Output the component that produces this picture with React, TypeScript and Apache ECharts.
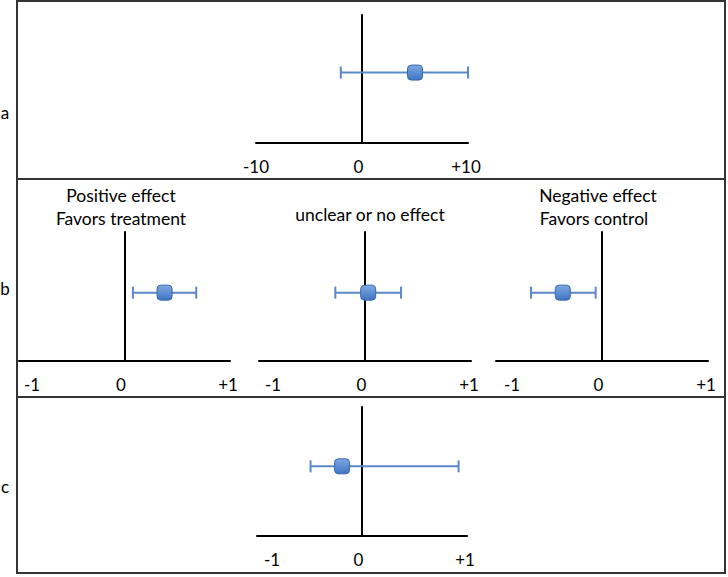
import React, { useEffect, useRef } from "react";
import * as echarts from "echarts";

// ---- data ----
const panelIds = ["a", "b1", "b2", "b3", "c"];
const pointEst = [5, 0.38, 0.03, -0.37, -0.19];
const ciLow = [-2, 0.08, -0.28, -0.67, -0.49];
const ciHigh = [10, 0.68, 0.34, -0.06, 0.92];
const rowPos = [0.55, 0.53, 0.53, 0.53, 0.54];
const axisMin = [-10, -1, -1, -1, -1];
const axisMax = [10, 1, 1, 1, 1];
const axisStep = [10, 1, 1, 1, 1];
const tickLabelsA = ["-10", "0", "+10"];
const tickLabelsB = ["-1", "0", "+1"];
const panelTickLabels = [tickLabelsA, tickLabelsB, tickLabelsB, tickLabelsB, tickLabelsB];
const panelTitles = [[], ["Positive effect", "Favors treatment"], ["unclear or no effect"], ["Negative effect", "Favors control"], []];
const rowLabels = ["a", "b", "c"];

// ---- layout (positions only) ----
const grids = [
  { left: 256, width: 212, top: 15, height: 128 },
  { left: 19, width: 211, top: 232, height: 129 },
  { left: 259, width: 212, top: 232, height: 129 },
  { left: 496, width: 212, top: 232, height: 129 },
  { left: 257, width: 210, top: 407, height: 129 },
];
const minLabelPad = [0, 26, 28, 32, 30];
const titlePos = [[], [[121, 195], [121, 218]], [[370, 214]], [[598, 195], [594, 218]], []];
const rowLabelPos = [[5, 112], [5, 288], [5, 486]];

const FONT = "Lato, 'Open Sans', sans-serif";
const BAR = "#5A89C8";
const TICK_FS = 17;

export default function App() {
  const ref = useRef<HTMLDivElement>(null);
  useEffect(() => {
    if (!ref.current) return;
    const chart = echarts.init(ref.current, null, { renderer: "svg" });

    const xAxes = panelIds.map((_, i) => ({
      type: "value",
      gridIndex: i,
      min: axisMin[i],
      max: axisMax[i],
      interval: axisStep[i],
      axisLine: { show: true, onZero: false, lineStyle: { color: "#000", width: 2 } },
      axisTick: { show: false },
      splitLine: { show: false },
      axisLabel: {
        show: true,
        showMinLabel: true,
        showMaxLabel: true,
        margin: 15,
        color: "#000",
        fontSize: TICK_FS,
        fontFamily: FONT,
        formatter: (v: number) => {
          const labels = panelTickLabels[i];
          if (v === axisMin[i]) return `{l|${labels[0]}}`;
          if (v === axisMax[i]) return `{r|${labels[2]}}`;
          return `{m|${labels[1]}}`;
        },
        rich: {
          l: { fontSize: TICK_FS, fontFamily: FONT, color: "#000", padding: [0, 0, 0, minLabelPad[i]] },
          m: { fontSize: TICK_FS, fontFamily: FONT, color: "#000", padding: [0, 7, 0, 0] },
          r: { fontSize: TICK_FS, fontFamily: FONT, color: "#000", padding: [0, 4, 0, 0] },
        },
      },
    }));

    const yAxes = panelIds.map((_, i) => ({
      type: "value",
      gridIndex: i,
      min: 0,
      max: 1,
      axisLine: { show: true, onZero: true, lineStyle: { color: "#000", width: 2 } },
      axisTick: { show: false },
      axisLabel: { show: false },
      splitLine: { show: false },
    }));

    const errorSeries = panelIds.map((_, i) => ({
      type: "custom",
      xAxisIndex: i,
      yAxisIndex: i,
      z: 3,
      clip: false,
      encode: { x: [0, 1], y: 2 },
      data: [[ciLow[i], ciHigh[i], rowPos[i]]],
      renderItem: (params: any, api: any) => {
        const lo = api.coord([api.value(0), api.value(2)]);
        const hi = api.coord([api.value(1), api.value(2)]);
        const cap = 6;
        const st = { stroke: BAR, lineWidth: 2 };
        return {
          type: "group",
          children: [
            { type: "line", shape: { x1: lo[0], y1: lo[1], x2: hi[0], y2: hi[1] }, style: st },
            { type: "line", shape: { x1: lo[0], y1: lo[1] - cap, x2: lo[0], y2: lo[1] + cap }, style: st },
            { type: "line", shape: { x1: hi[0], y1: hi[1] - cap, x2: hi[0], y2: hi[1] + cap }, style: st },
          ],
        };
      },
    }));

    const pointSeries = panelIds.map((_, i) => ({
      type: "scatter",
      xAxisIndex: i,
      yAxisIndex: i,
      z: 5,
      symbol: "roundRect",
      symbolSize: 15,
      data: [[pointEst[i], rowPos[i]]],
      itemStyle: {
        color: new echarts.graphic.LinearGradient(0, 0, 0, 1, [
          { offset: 0, color: "#7FA8E3" },
          { offset: 1, color: "#3F74C2" },
        ]),
        borderColor: "#3A68AC",
        borderWidth: 1,
        opacity: 1,
      },
    }));

    const graphics: any[] = [
      {
        type: "rect",
        shape: { x: 17, y: 1, width: 708, height: 572 },
        style: { fill: "none", stroke: "#333", lineWidth: 2 },
        z: 1,
      },
      { type: "line", shape: { x1: 17, y1: 179, x2: 725, y2: 179 }, style: { stroke: "#333", lineWidth: 2 } },
      { type: "line", shape: { x1: 17, y1: 397, x2: 725, y2: 397 }, style: { stroke: "#333", lineWidth: 2 } },
    ];
    rowLabels.forEach((t, k) => {
      graphics.push({
        type: "text",
        x: rowLabelPos[k][0],
        y: rowLabelPos[k][1],
        style: { text: t, fill: "#000", font: `17px ${FONT}`, textAlign: "center", textVerticalAlign: "middle" },
      });
    });
    panelTitles.forEach((lines, i) => {
      lines.forEach((t, j) => {
        graphics.push({
          type: "text",
          x: titlePos[i][j][0],
          y: titlePos[i][j][1],
          style: { text: t, fill: "#000", font: `17.5px ${FONT}`, textAlign: "center", textVerticalAlign: "middle" },
        });
      });
    });

    chart.setOption({
      animation: false,
      backgroundColor: "#fff",
      grid: grids.map((g) => ({ ...g, containLabel: false })),
      xAxis: xAxes,
      yAxis: yAxes,
      series: [...errorSeries, ...pointSeries],
      graphic: graphics,
    });
    return () => chart.dispose();
  }, []);

  return (
    <div
      ref={ref}
      style={{ position: "absolute", left: 0, top: 0, width: 728, height: 577, background: "#fff" }}
    />
  );
}
